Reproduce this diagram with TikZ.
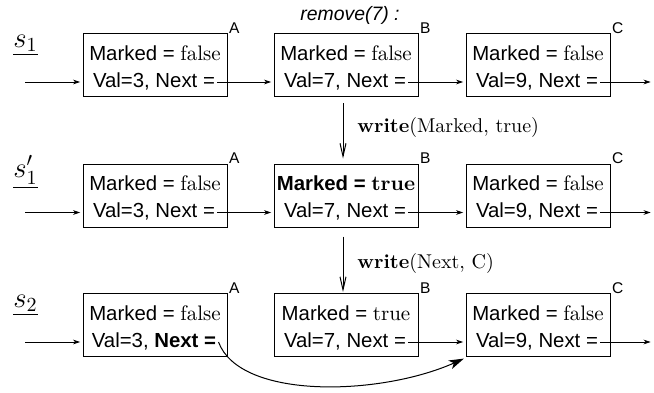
\documentclass[tikz,border=0pt]{standalone}
\usepackage{fontspec}
\newfontfamily\hv{Liberation Sans}[Scale=0.97]
\usetikzlibrary{arrows.meta}
\newcommand\celltext{\fontsize{10.5pt}{12.5pt}\selectfont\hv}
\begin{document}
\begin{tikzpicture}[x=0.5pt,y=-0.5pt,
  cell/.style={draw, line width=0.5pt, minimum width=72pt, minimum height=31.5pt, inner sep=0pt},
  txt/.style={font=\celltext, inner sep=1pt, anchor=base, text height=7pt, text depth=2pt},
  corner/.style={font=\hv\footnotesize, inner sep=0.6pt, anchor=base west},
  state/.style={font=\Large, anchor=base west, inner sep=0pt},
  link/.style={line width=0.4pt, -{Stealth[length=3.6pt,width=2.4pt]}, shorten >=1.2pt},
  stepline/.style={line width=0.5pt, -{Straight Barb[length=6.5pt,width=3pt,line width=0.5pt]}},
  redirect/.style={line width=0.5pt, -{Stealth[length=7.5pt,width=4.6pt,inset=2pt]}},
  oplabel/.style={anchor=base west, inner sep=0pt}]
\useasboundingbox (0,0) rectangle (654,392);

% frame ends for the list
\coordinate (lft) at (25,0);
\coordinate (rgt) at (653,0);

% operation title
\node[font=\hv\itshape, inner sep=0pt, anchor=base] (title) at (350,20) {remove(7) :};

% state labels
\node[state] (s1)  at (13,47)  {$\underline{s_1}$};
\node[state] (s1p) at (13,177) {$\underline{s_1'}$};
\node[state] (s2)  at (13,307) {$\underline{s_2}$};

% ---------- row 1 ----------
\node[cell] (A1) at (155,65) {};
\node[cell] (B1) at (346,65) {};
\node[cell] (C1) at (538,65) {};
\node[txt] (mA1) at (155,60) {Marked = \textrm{false}};
\node[txt] (vA1) at (154,87) {Val=3, Next =};
\node[txt] (mB1) at (346,60) {Marked = \textrm{false}};
\node[txt] (vB1) at (345,87) {Val=7, Next =};
\node[txt] (mC1) at (538,60) {Marked = \textrm{false}};
\node[txt] (vC1) at (537,87) {Val=9, Next =};
\node[corner] (la1) at (A1.north east) {A};
\node[corner] (lb1) at (B1.north east) {B};
\node[corner] (lc1) at (C1.north east) {C};
\draw[link] (vA1.east -| lft) -- (vA1.east -| A1.west);
\draw[link] (vA1.east) -- (vA1.east -| B1.west);
\draw[link] (vB1.east) -- (vB1.east -| C1.west);
\draw[link] (vC1.east) -- (vC1.east -| rgt);

% ---------- row 2 ----------
\node[cell] (A2) at (155,195.5) {};
\node[cell] (B2) at (346,195.5) {};
\node[cell] (C2) at (538,195.5) {};
\node[txt] (mA2) at (155,190.5) {Marked = \textrm{false}};
\node[txt] (vA2) at (154,217.5) {Val=3, Next =};
\node[txt] (mB2) at (346,190.5) {\textbf{Marked = \textrm{true}}};
\node[txt] (vB2) at (345,217.5) {Val=7, Next =};
\node[txt] (mC2) at (538,190.5) {Marked = \textrm{false}};
\node[txt] (vC2) at (537,217.5) {Val=9, Next =};
\node[corner] (la2) at (A2.north east) {A};
\node[corner] (lb2) at (B2.north east) {B};
\node[corner] (lc2) at (C2.north east) {C};
\draw[link] (vA2.east -| lft) -- (vA2.east -| A2.west);
\draw[link] (vA2.east) -- (vA2.east -| B2.west);
\draw[link] (vB2.east) -- (vB2.east -| C2.west);
\draw[link] (vC2.east) -- (vC2.east -| rgt);

% ---------- row 3 ----------
\node[cell] (A3) at (155,325) {};
\node[cell] (B3) at (346,325) {};
\node[cell] (C3) at (538,325) {};
\node[txt] (mA3) at (155,320) {Marked = \textrm{false}};
\node[txt] (vA3) at (154,347) {Val=3, \textbf{Next =}};
\node[txt] (mB3) at (346,320) {Marked = \textrm{true}};
\node[txt] (vB3) at (345,347) {Val=7, Next =};
\node[txt] (mC3) at (538,320) {Marked = \textrm{false}};
\node[txt] (vC3) at (537,347) {Val=9, Next =};
\node[corner] (la3) at (A3.north east) {A};
\node[corner] (lb3) at (B3.north east) {B};
\node[corner] (lc3) at (C3.north east) {C};
\draw[link] (vA3.east -| lft) -- (vA3.east -| A3.west);
\draw[link] (vB3.east) -- (vB3.east -| C3.west);
\draw[link] (vC3.east) -- (vC3.east -| rgt);

% redirected pointer of A
\draw[redirect] (vA3.east) .. controls (240,400) and (380,396) .. ([xshift=-0.8pt,yshift=-0.8pt]C3.south west);

% state transitions
\draw[stepline] ([xshift=-1.5pt,yshift=-3pt]B1.south) -- ([xshift=-1.5pt,yshift=2.5pt]B2.north);
\node[oplabel] (op1) at (357,132) {\textbf{write}(Marked, true)};
\draw[stepline] ([xshift=-1.5pt,yshift=-4.5pt]B2.south) -- ([xshift=-1.5pt,yshift=0.5pt]B3.north);
\node[oplabel] (op2) at (357,268) {\textbf{write}(Next, C)};
\end{tikzpicture}
\end{document}
